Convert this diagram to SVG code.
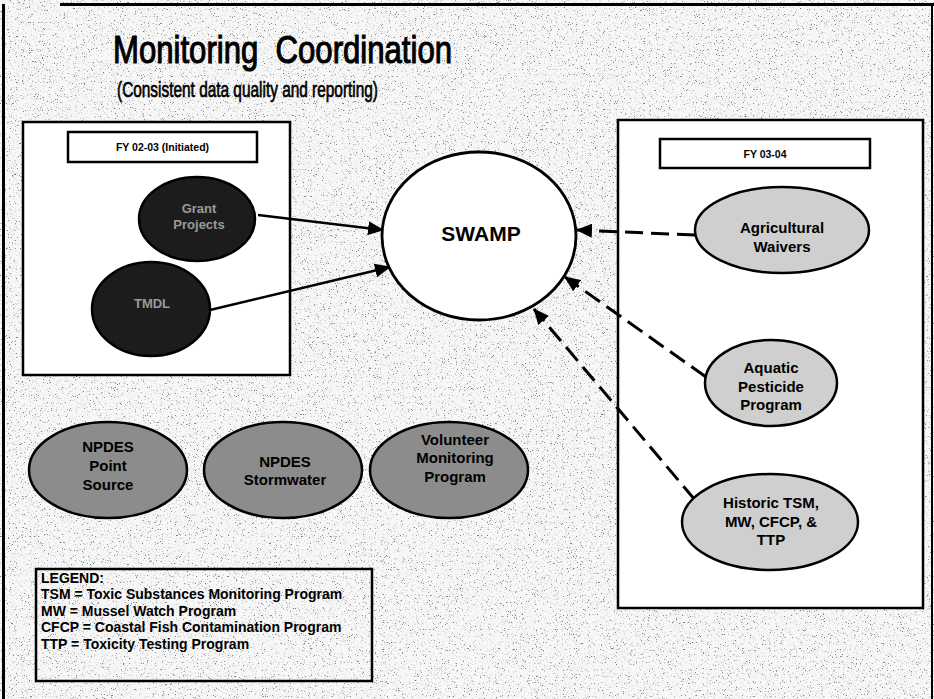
<svg xmlns="http://www.w3.org/2000/svg" width="934" height="699" viewBox="0 0 934 699">
  <defs>
    <style>
      .t { font-family: "Liberation Sans", Arial, sans-serif; }
      .b { font-family: "Liberation Sans", Arial, sans-serif; font-weight: bold; }
      .frame { fill: #ffffff; stroke: #000; stroke-width: 2.5; }
      .node { stroke: #000; stroke-width: 2.5; }
      .dark { fill: #1c1c1c; }
      .mid { fill: #8c8c8c; }
      .light { fill: #cfcfcf; }
      .solid { stroke: #000; stroke-width: 2.5; fill: none; marker-end: url(#arrow); }
      .dash { stroke: #000; stroke-width: 3; fill: none; stroke-dasharray: 18 8; marker-end: url(#arrow); }
      .lbl { font-size: 15px; text-anchor: middle; }
      .leg { font-size: 14px; }
    </style>
    <marker id="arrow" markerUnits="userSpaceOnUse" markerWidth="16" markerHeight="14" refX="15" refY="7" orient="auto">
      <path d="M0,0 L16,7 L0,14 Z" fill="#000"/>
    </marker>
    <filter id="speckle" x="0" y="0" width="100%" height="100%">
      <feTurbulence type="fractalNoise" baseFrequency="0.85" numOctaves="2" seed="7" result="n"/>
      <feColorMatrix in="n" type="matrix" values="0 0 0 0 0  0 0 0 0 0  0 0 0 0 0  -16 0 0 0 5.0"/>
    </filter>
    <filter id="speckle2" x="0" y="0" width="100%" height="100%">
      <feTurbulence type="fractalNoise" baseFrequency="0.55" numOctaves="3" seed="21" result="n"/>
      <feColorMatrix in="n" type="matrix" values="0 0 0 0 0.5  0 0 0 0 0.5  0 0 0 0 0.5  -12 0 0 0 4.6"/>
    </filter>
  </defs>

  <!-- background -->
  <rect x="0" y="0" width="934" height="699" fill="#f7f7f7"/>
  <rect x="0" y="0" width="934" height="699" fill="#000" filter="url(#speckle2)" opacity="0.55"/>
  <rect x="0" y="0" width="934" height="699" fill="#000" filter="url(#speckle)" opacity="0.45"/>
  <!-- outer frame -->
  <line x1="60" y1="4.5" x2="934" y2="4.5" stroke="#000" stroke-width="3"/>
  <line x1="3.5" y1="4" x2="3.5" y2="699" stroke="#000" stroke-width="3"/>
  <line x1="932" y1="4" x2="932" y2="699" stroke="#000" stroke-width="2"/>

  <!-- title -->
  <g id="title" fill="#000" stroke="#000">
    <text class="t" x="113" y="63" font-size="38" stroke-width="1.1" xml:space="preserve" textLength="339" lengthAdjust="spacingAndGlyphs">Monitoring  Coordination</text>
    <text class="t" x="117" y="97" font-size="22" stroke-width="0.7" textLength="261" lengthAdjust="spacingAndGlyphs">(Consistent data quality and reporting)</text>
  </g>

  <!-- group boxes -->
  <g id="box-fy0203">
    <rect class="frame" x="23" y="122" width="267" height="253"/>
    <rect class="frame" x="68" y="132" width="189" height="30"/>
    <text class="b" x="162.5" y="151" font-size="10.5" text-anchor="middle">FY 02-03 (Initiated)</text>
  </g>
  <g id="box-fy0304">
    <rect class="frame" x="618" y="120" width="305" height="488"/>
    <rect class="frame" x="660" y="139" width="210" height="29"/>
    <text class="b" x="765" y="158" font-size="10.5" text-anchor="middle">FY 03-04</text>
  </g>

  <!-- connectors -->
  <g id="connectors">
    <line class="solid" x1="258" y1="215" x2="383" y2="230"/>
    <line class="solid" x1="210" y1="310" x2="390" y2="267"/>
    <line class="dash" x1="695" y1="235" x2="577" y2="230"/>
    <line class="dash" x1="706" y1="377" x2="565" y2="277"/>
    <line class="dash" x1="695" y1="500" x2="534" y2="309"/>
  </g>

  <!-- SWAMP -->
  <g id="swamp">
    <ellipse cx="479" cy="236" rx="97" ry="84" fill="#fff" stroke="#000" stroke-width="2.8"/>
    <text class="b" x="481" y="241" font-size="21" text-anchor="middle">SWAMP</text>
  </g>

  <!-- dark nodes -->
  <g id="grant-projects">
    <ellipse class="node dark" cx="197" cy="219" rx="58" ry="42"/>
    <text class="b lbl" x="199" y="213" fill="#9a9a9a" style="font-size:13px">Grant</text>
    <text class="b lbl" x="199" y="229" fill="#9a9a9a" style="font-size:13px">Projects</text>
  </g>
  <g id="tmdl">
    <ellipse class="node dark" cx="151" cy="309" rx="59" ry="47"/>
    <text class="b lbl" x="152" y="308" fill="#9a9a9a" style="font-size:13px">TMDL</text>
  </g>

  <!-- right nodes -->
  <g id="ag-waivers">
    <ellipse class="node light" cx="782" cy="230" rx="87" ry="43"/>
    <text class="b lbl" x="782" y="233">Agricultural</text>
    <text class="b lbl" x="782" y="252">Waivers</text>
  </g>
  <g id="aquatic-pesticide">
    <ellipse class="node light" cx="771" cy="383" rx="66" ry="43"/>
    <text class="b lbl" x="771" y="373">Aquatic</text>
    <text class="b lbl" x="771" y="392">Pesticide</text>
    <text class="b lbl" x="771" y="410">Program</text>
  </g>
  <g id="historic">
    <ellipse class="node light" cx="770" cy="522" rx="88" ry="48"/>
    <text class="b lbl" x="771" y="508">Historic TSM,</text>
    <text class="b lbl" x="771" y="527">MW, CFCP, &amp;</text>
    <text class="b lbl" x="771" y="545">TTP</text>
  </g>

  <!-- bottom nodes -->
  <g id="npdes-point">
    <ellipse class="node mid" cx="108" cy="470" rx="79" ry="48"/>
    <text class="b lbl" x="108" y="452">NPDES</text>
    <text class="b lbl" x="108" y="471">Point</text>
    <text class="b lbl" x="108" y="490">Source</text>
  </g>
  <g id="npdes-storm">
    <ellipse class="node mid" cx="283" cy="470" rx="79" ry="48"/>
    <text class="b lbl" x="285" y="467">NPDES</text>
    <text class="b lbl" x="285" y="485">Stormwater</text>
  </g>
  <g id="volunteer">
    <ellipse class="node mid" cx="449" cy="470" rx="79" ry="48"/>
    <text class="b lbl" x="455" y="445">Volunteer</text>
    <text class="b lbl" x="455" y="463">Monitoring</text>
    <text class="b lbl" x="455" y="482">Program</text>
  </g>

  <!-- legend -->
  <g id="legend">
    <rect x="36" y="569" width="336" height="112" fill="none" stroke="#000" stroke-width="2.5"/>
    <text class="b leg" x="41" y="583">LEGEND:</text>
    <text class="b leg" x="41" y="599">TSM = Toxic Substances Monitoring Program</text>
    <text class="b leg" x="41" y="616">MW = Mussel Watch Program</text>
    <text class="b leg" x="41" y="632">CFCP = Coastal Fish Contamination Program</text>
    <text class="b leg" x="41" y="649">TTP = Toxicity Testing Program</text>
  </g>
</svg>
